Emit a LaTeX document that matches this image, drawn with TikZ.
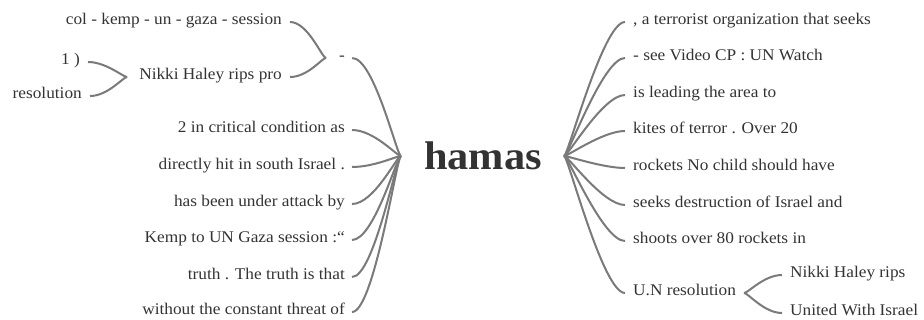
\documentclass[tikz,border=0pt]{standalone}
\usepackage{fontspec}
\setmainfont{Liberation Serif}[FakeStretch=1.06]
\usetikzlibrary{calc}
\definecolor{txt}{HTML}{333333}
\definecolor{ln}{HTML}{7A7A7A}
\begin{document}
\begin{tikzpicture}[x=1pt,y=-1pt,
  w/.style={inner sep=0pt, text=txt, font=\fontsize{16.3}{19}\selectfont, text height=10pt, text depth=5pt},
  link/.style={draw=ln, line width=2pt},
]
\useasboundingbox (0,0) rectangle (924,320);
% centre
\node[inner sep=0pt, text=txt, font=\fontsize{40}{48}\selectfont\bfseries] (hamas) at (483,156) {hamas};
\coordinate (hL) at ([xshift=-23pt]hamas.west);
\coordinate (hR) at ([xshift=22pt]hamas.east);
% left side, upper branch
\node[w, anchor=west] (dash) at (339,58) {-};
\node[w, anchor=east] (col) at (282,22) {col - kemp - un - gaza - session};
\node[w, anchor=east] (nhp) at (282,77) {Nikki Haley rips pro};
\node[w, anchor=east] (one) at (80,62) {1 )};
\node[w, anchor=east] (res) at (82,96) {resolution};
% left side, direct branches
\node[w, anchor=east] (l1) at (345,130) {2 in critical condition as};
\node[w, anchor=east] (l2) at (345,167) {directly hit in south Israel .};
\node[w, anchor=east] (l3) at (345,204) {has been under attack by};
\node[w, anchor=east] (l4) at (345,240) {Kemp to UN Gaza session :“};
\node[w, anchor=east] (l5) at (345,277) {truth . The truth is that};
\node[w, anchor=east] (l6) at (345,312) {without the constant threat of};
% right side
\node[w, anchor=west] (r1) at (633,22) {, a terrorist organization that seeks};
\node[w, anchor=west] (r2) at (633,58) {- see Video CP : UN Watch};
\node[w, anchor=west] (r3) at (633,95) {is leading the area to};
\node[w, anchor=west] (r4) at (633,131) {kites of terror . Over 20};
\node[w, anchor=west] (r5) at (633,168) {rockets No child should have};
\node[w, anchor=west] (r6) at (633,205) {seeks destruction of Israel and};
\node[w, anchor=west] (r7) at (633,241) {shoots over 80 rockets in};
\node[w, anchor=west] (r8) at (633,293) {U.N resolution};
\node[w, anchor=west] (nhr) at (790,275) {Nikki Haley rips};
\node[w, anchor=west] (uwi) at (790,313) {United With Israel};
% connectors, left
\foreach \n in {l1,l2,l3,l4,l5,l6}
  \draw[link] ([xshift=7pt]\n.east) .. controls +(22,0) and +(-4,0) .. (hL);
\draw[link] ([xshift=7pt]dash.east) .. controls +(22,0) and +(-4,0) .. (hL);
\foreach \n in {col,nhp}
  \draw[link] ([xshift=8pt]\n.east) .. controls +(18,0) and +(-4,0) .. ([xshift=-13pt]dash.west);
\foreach \n in {one,res}
  \draw[link] ([xshift=8pt]\n.east) .. controls +(18,0) and +(-4,0) .. ([xshift=-12pt]nhp.west);
% connectors, right
\foreach \n in {r1,r2,r3,r4,r5,r6,r7,r8}
  \draw[link] (hR) .. controls +(4,0) and +(-22,0) .. ([xshift=-8pt]\n.west);
\foreach \n in {nhr,uwi}
  \draw[link] ([xshift=8pt]r8.east) .. controls +(4,0) and +(-18,0) .. ([xshift=-8pt]\n.west);
\end{tikzpicture}
\end{document}
